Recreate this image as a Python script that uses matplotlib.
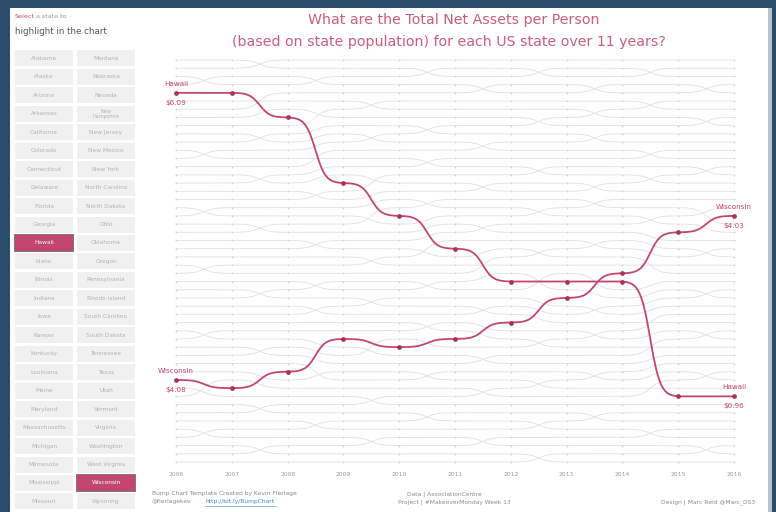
import numpy as np
import matplotlib
matplotlib.use("Agg")
import matplotlib.pyplot as plt
from matplotlib.patches import Rectangle

years = list(range(2006, 2017))

# highlighted states (rank per year, 1 = highest net assets per person)
hawaii_rank = [5, 5, 8, 16, 20, 24, 28, 28, 28, 42, 42]
wisconsin_rank = [40, 41, 39, 35, 36, 35, 33, 30, 27, 22, 20]
hawaii_labels = ["$6.09", "$0.96"]
wisconsin_labels = ["$4.08", "$4.03"]

# order (rank) of the other 48 states per year
other_order = {
    2006: "AK WY ND NM CT DE MT NE OR UT MN WV VT SD WA ME MA IA LA RI OK VA MD NH KS AL ID NC AR KY MS SC TN TX NY IN MO GA CO OH AZ PA NV MI FL CA NJ IL",
    2007: "AK WY NM ND CT DE MT NE OR UT WV MN VT SD WA ME MA LA IA RI OK VA MD NH AL KS ID NC AR KY MS SC TX TN NY IN MO GA OH CO AZ PA NV FL MI CA NJ IL",
    2008: "WY AK NM ND DE CT MT NE UT OR WV MN VT WA SD ME MA LA IA OK RI VA MD NH AL KS ID AR NC KY MS SC TX TN IN NY MO GA OH CO PA AZ NV FL MI NJ CA IL",
    2009: "WY AK ND NM DE CT NE MT UT OR WV VT MN WA SD MA ME LA IA OK RI MD VA NH AL KS AR ID NC MS KY SC TX TN IN NY GA MO OH CO PA AZ FL NV MI NJ CA IL",
    2010: "WY AK ND NM DE NE CT MT UT WV OR VT MN WA MA SD ME LA OK IA RI MD VA AL NH KS AR ID MS NC KY SC TX IN TN NY GA MO OH PA CO AZ FL NV NJ MI CA IL",
    2011: "WY ND AK NM DE NE CT MT WV UT OR VT WA MN MA SD ME OK LA IA RI MD AL VA NH KS ID AR MS NC KY TX SC IN TN NY MO GA OH PA CO FL AZ NV NJ MI CA IL",
    2012: "WY ND AK DE NM NE CT MT WV UT VT OR WA MN MA ME SD OK LA IA MD RI AL VA KS NH ID AR MS KY NC TX SC IN NY TN MO GA PA OH CO FL AZ NV MI NJ CA IL",
    2013: "WY AK ND DE NM NE CT WV MT UT VT OR WA MA MN ME SD OK IA LA MD RI AL KS VA NH AR ID MS KY NC TX IN SC NY TN MO PA GA OH CO FL NV AZ MI NJ IL CA",
    2014: "WY AK ND NM DE NE WV CT MT VT UT OR WA MA MN SD ME IA OK LA MD RI KS AL VA NH AR ID KY MS NC IN TX SC NY TN PA MO GA OH CO NV FL AZ MI NJ IL CA",
    2015: "WY ND AK NM DE WV NE CT MT VT UT WA OR MA SD MN ME IA OK MD LA RI KS AL NH VA AR ID KY MS IN NC TX NY SC TN PA MO OH GA CO NV FL MI AZ NJ IL CA",
    2016: "WY ND AK DE NM WV NE MT CT VT UT WA OR SD MA MN ME IA MD OK LA RI AL KS NH VA AR KY ID MS IN NC NY TX SC TN PA OH MO GA CO NV FL MI AZ IL NJ CA",
}

states_col1 = ["Alabama", "Alaska", "Arizona", "Arkansas", "California", "Colorado",
               "Connecticut", "Delaware", "Florida", "Georgia", "Hawaii", "Idaho",
               "Illinois", "Indiana", "Iowa", "Kansas", "Kentucky", "Louisiana",
               "Maine", "Maryland", "Massachusetts", "Michigan", "Minnesota",
               "Mississippi", "Missouri"]
states_col2 = ["Montana", "Nebraska", "Nevada", "New\nHampshire", "New Jersey",
               "New Mexico", "New York", "North Carolina", "North Dakota", "Ohio",
               "Oklahoma", "Oregon", "Pennsylvania", "Rhode Island", "South Carolina",
               "South Dakota", "Tennessee", "Texas", "Utah", "Vermont", "Virginia",
               "Washington", "West Virginia", "Wisconsin", "Wyoming"]
selected = ["Hawaii", "Wisconsin"]

navy = "#2a4d6b"
pink = "#c4466e"
title_pink = "#cc5c82"
gray_line = "#e0e0e0"


def sigmoid_path(x, y, n=40, k=11):
    xs, ys = [], []
    t = np.linspace(0, 1, n)
    s = 1 / (1 + np.exp(-k * (t - 0.5)))
    s = (s - s[0]) / (s[-1] - s[0])
    for i in range(len(x) - 1):
        xs.extend(x[i] + (x[i + 1] - x[i]) * t)
        ys.extend(y[i] + (y[i + 1] - y[i]) * s)
    return xs, ys


# build full rank table
ranks = {}
for yr in years:
    order = other_order[yr].split()
    extra = sorted([(hawaii_rank[yr - 2006], "HI"), (wisconsin_rank[yr - 2006], "WI")])
    for r, code in extra:
        order.insert(r - 1, code)
    for i, code in enumerate(order):
        ranks.setdefault(code, []).append(i + 1)

W, H = 776, 512
fig = plt.figure(figsize=(W / 100, H / 100), dpi=100)
fig.patch.set_facecolor(navy)

bg = fig.add_axes([0, 0, 1, 1])
bg.set_xlim(0, W)
bg.set_ylim(H, 0)
bg.axis("off")
bg.add_patch(Rectangle((10, 8), 758, 510, facecolor="white", edgecolor="none"))
bg.add_patch(Rectangle((768, 8), 4, 510, facecolor="#b8c3ce", edgecolor="none"))

# left selector panel
bg.text(15, 17, "Select", color=pink, fontsize=4.6, va="center", ha="left")
bg.text(36, 17, "a state to", color="#999999", fontsize=4.6, va="center", ha="left")
bg.text(15, 31, "highlight in the chart", color="#555555", fontsize=6.3, va="center", ha="left")
for col, names in enumerate([states_col1, states_col2]):
    x0 = 15 + col * 62
    for i, name in enumerate(names):
        yc = 58.4 + i * 18.46
        sel = name in selected
        if sel:
            bg.add_patch(Rectangle((x0 - 1, yc - 9), 60, 18, facecolor="#444444",
                                   edgecolor="none", alpha=0.7))
        bg.add_patch(Rectangle((x0, yc - 8), 58, 16,
                               facecolor=pink if sel else "#f0f0f0", edgecolor="none"))
        bg.text(x0 + 29, yc, name, ha="center", va="center",
                fontsize=3.6 if "\n" in name else 4.2,
                color="white" if sel else "#b3b3b3", linespacing=0.9)

# title
bg.text(454, 20, "What are the Total Net Assets per Person", ha="center", va="center",
        color=title_pink, fontsize=10.2)
bg.text(449, 42, "(based on state population) for each US state over 11 years?",
        ha="center", va="center", color=title_pink, fontsize=10.2)

# credits
bg.text(152, 494, "Bump Chart Template Created by Kevin Flerlage", ha="left", va="center",
        fontsize=4.3, color="#8a8a8a")
bg.text(152, 502, "@flerlagekev", ha="left", va="center", fontsize=4.3, color="#8a8a8a")
bg.text(205, 502, "http://bit.ly/BumpChart", ha="left", va="center", fontsize=4.3,
        color="#3b8ec2")
bg.plot([205, 276], [505.5, 505.5], color="#3b8ec2", lw=0.4)
bg.text(444, 494, "Data | AssociationCentre", ha="center", va="center", fontsize=4.3,
        color="#8a8a8a")
bg.text(454, 502, "Project | #MakeoverMonday Week 13", ha="center", va="center",
        fontsize=4.3, color="#8a8a8a")
bg.text(755, 502, "Design | Marc Reid @Marc_DS3", ha="right", va="center", fontsize=4.3,
        color="#8a8a8a")

# bump chart axes: 2006 at px 176, 2016 at px 734; rank 1 at px 60, rank 50 at px 462
px_year = (734 - 176) / 10
px_rank = (462 - 60) / 49
ax_l, ax_r, ax_t, ax_b = 150, 760, 45, 466
ax = fig.add_axes([ax_l / W, 1 - ax_b / H, (ax_r - ax_l) / W, (ax_b - ax_t) / H])
ax.patch.set_visible(False)
ax.set_xlim(2006 - (176 - ax_l) / px_year, 2016 + (ax_r - 734) / px_year)
ax.set_ylim(50 + (ax_b - 462) / px_rank, 1 - (60 - ax_t) / px_rank)
for sp in ax.spines.values():
    sp.set_visible(False)
ax.set_yticks([])
ax.set_xticks(years)
ax.set_xticklabels([str(y) for y in years], fontsize=4.3, color="#9a9a9a")
ax.tick_params(axis="x", length=0, pad=4)

for code, r in ranks.items():
    if code in ("HI", "WI"):
        continue
    xs, ys = sigmoid_path(years, r)
    ax.plot(xs, ys, color=gray_line, lw=0.6, zorder=1)
    ax.plot(years, r, ls="none", marker="o", ms=1.2, color="#d0d0d0", mew=0, zorder=2)

for r, labels, name in [(hawaii_rank, hawaii_labels, "Hawaii"),
                        (wisconsin_rank, wisconsin_labels, "Wisconsin")]:
    xs, ys = sigmoid_path(years, r)
    ax.plot(xs, ys, color=pink, lw=1.3, zorder=4, solid_capstyle="round")
    ax.plot(years, r, ls="none", marker="o", ms=2.4, color="#a8325a", zorder=5)
    for yr, rk, lab in [(years[0], r[0], labels[0]), (years[-1], r[-1], labels[1])]:
        ax.text(yr, rk - 9 / px_rank, name, ha="center", va="center", fontsize=5.2,
                color=pink, zorder=6)
        ax.text(yr, rk + 10 / px_rank, lab, ha="center", va="center", fontsize=5.2,
                color=pink, zorder=6)

fig.savefig("out.png", dpi=100, facecolor=fig.get_facecolor())
